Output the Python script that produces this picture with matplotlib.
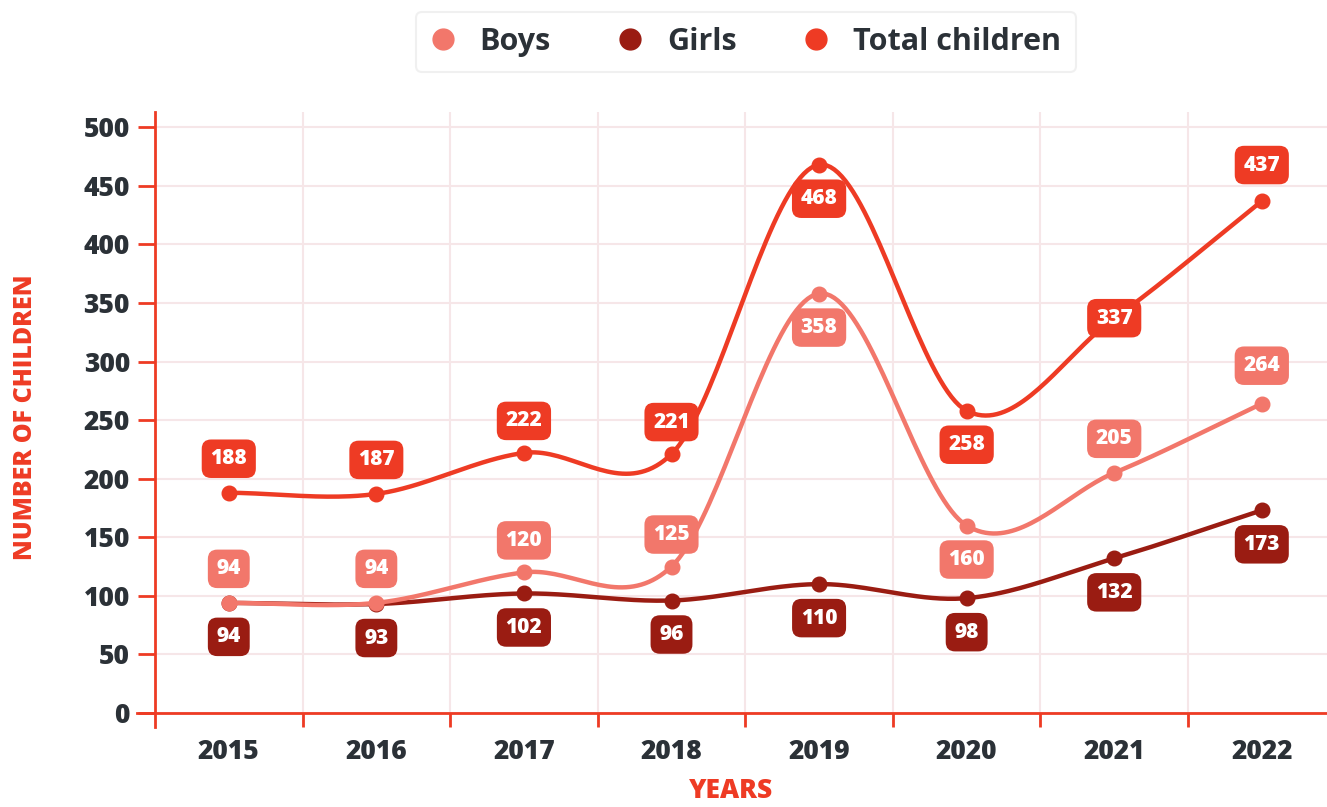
import numpy as np
import matplotlib.pyplot as plt
from matplotlib.lines import Line2D

plt.rcParams['font.family'] = ['Open Sans', 'DejaVu Sans']

# Datos
years = ['2015', '2016', '2017', '2018', '2019', '2020', '2021', '2022']
boys = [94, 94, 120, 125, 358, 160, 205, 264]
girls = [94, 93, 102, 96, 110, 98, 132, 173]
total = [188, 187, 222, 221, 468, 258, 337, 437]

# Desplazamiento vertical de cada etiqueta (px) respecto a su punto
boys_off = [34, 34, 32, 32, -34, -34, 34, 38]
girls_off = [-34, -34, -34, -34, -34, -34, -34, -34]
total_off = [34, 34, 32, 32, -34, -34, 0, 36]

c_boys = '#f2776b'
c_girls = '#9a1c12'
c_total = '#ee3b24'
c_text = '#2b3137'
c_grid = '#f6e6e8'
W = 800


def spline(y, n=40):
    # curva cardinal (Catmull-Rom) que pasa por todos los puntos
    y = np.asarray(y, dtype=float)
    m = np.gradient(y)
    xs, ys = [], []
    for i in range(len(y) - 1):
        t = np.linspace(0, 1, n)
        h00 = 2 * t**3 - 3 * t**2 + 1
        h10 = t**3 - 2 * t**2 + t
        h01 = -2 * t**3 + 3 * t**2
        h11 = t**3 - t**2
        xs.append(i + t)
        ys.append(h00 * y[i] + h10 * m[i] + h01 * y[i + 1] + h11 * m[i + 1])
    return np.concatenate(xs), np.concatenate(ys)


fig = plt.figure(figsize=(13.27, 8.07), dpi=100)
ax = fig.add_axes([0.1168, 0.0991, 0.883, 0.7621])

x = np.arange(len(years))
for vals, offs, col, z in [(total, total_off, c_total, 5),
                           (boys, boys_off, c_boys, 4),
                           (girls, girls_off, c_girls, 3)]:
    sx, sy = spline(vals)
    ax.plot(sx, sy, color=col, lw=3.2, zorder=z, solid_capstyle='round')
    ax.plot(x, vals, 'o', color=col, ms=10.5, zorder=z)
    for xi, v, o in zip(x, vals, offs):
        ax.annotate(str(v), (xi, v), xytext=(0, o), textcoords='offset pixels',
                    ha='center', va='center', color='white', fontsize=15,
                    fontweight=W, zorder=10,
                    bbox=dict(boxstyle='round,pad=0.42,rounding_size=0.45',
                              fc=col, ec='none'))

ax.set_xlim(-0.5, 7.44)
ax.set_ylim(-12, 513)

# Ejes
for s in ['top', 'right']:
    ax.spines[s].set_visible(False)
ax.spines['left'].set_color(c_total)
ax.spines['left'].set_linewidth(2)
ax.spines['bottom'].set_color(c_total)
ax.spines['bottom'].set_linewidth(2)
ax.spines['bottom'].set_position(('data', 0))
ax.spines['bottom'].set_bounds(-0.62, 7.44)

ax.set_yticks(np.arange(0, 501, 50))
ax.tick_params(axis='y', length=12, width=2, color=c_total, labelcolor=c_text,
               labelsize=19, pad=6)
for lab in ax.get_yticklabels():
    lab.set_fontweight(W)

ax.set_xticks(x)
ax.set_xticklabels(years, fontweight=W)
ax.set_xticks(np.arange(0.5, 7.5, 1), minor=True)
ax.tick_params(axis='x', which='major', length=0, labelcolor=c_text,
               labelsize=19, pad=19)
ax.tick_params(axis='x', which='minor', length=10, width=2, color=c_total)

ax.grid(True, axis='y', color=c_grid, lw=1.5, zorder=0)
ax.grid(True, axis='x', which='minor', color=c_grid, lw=1.5, zorder=0)
ax.set_axisbelow(True)

fig.text(0.019, 0.483, 'NUMBER OF CHILDREN', color=c_total, fontsize=18,
         fontweight=W, rotation=90, ha='center', va='center')
fig.text(0.551, 0.004, 'YEARS', color=c_total, fontsize=19, fontweight=W,
         ha='center', va='bottom')

# Leyenda
handles = [Line2D([], [], ls='none', marker='o', ms=15, color=c)
           for c in (c_boys, c_girls, c_total)]
leg = fig.legend(handles, ['Boys', 'Girls', 'Total children'], ncol=3,
                 loc='center', bbox_to_anchor=(0.562, 0.948), frameon=True,
                 fancybox=True, fontsize=22, handletextpad=0.8,
                 columnspacing=2.2, borderpad=0.5, handlelength=0.8)
leg.get_frame().set_edgecolor('#ededed')
leg.get_frame().set_linewidth(1.5)
for t in leg.get_texts():
    t.set_color(c_text)
    t.set_fontweight('bold')

fig.savefig('out.png', dpi=100)
